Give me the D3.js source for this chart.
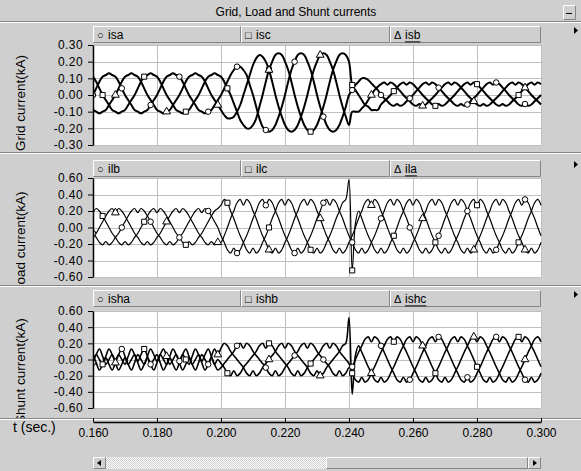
<!DOCTYPE html>
<html>
<head>
<meta charset="utf-8">
<script src="https://cdn.jsdelivr.net/npm/d3@7"></script>
<style>
  body { margin: 0; background: #cfcfcf; }
  svg { display: block; font-family: Arial, "Liberation Sans", sans-serif; }
</style>
</head>
<body>
<svg id="chart" width="581" height="471"></svg>
<script>
// time base: one sample per millisecond, 0.160 s .. 0.300 s
const timeStart = 0.160;
const timeStep = 0.001;
const xTicks = [0.16, 0.18, 0.20, 0.22, 0.24, 0.26, 0.28, 0.30];
const gridTicks = [0.3, 0.2, 0.1, 0, -0.1, -0.2, -0.3];
const loadTicks = [0.6, 0.4, 0.2, 0, -0.2, -0.4, -0.6];
const shuntTicks = [0.6, 0.4, 0.2, 0, -0.2, -0.4, -0.6];

// grid currents (kA)
const isa = [0,.04,.08,.11,.12,.13,.12,.11,.08,.04,0,-.03,-.06,-.09,-.10,-.11,-.10,-.09,-.06,-.03,
  0,.04,.08,.11,.12,.13,.12,.11,.08,.04,0,-.03,-.06,-.09,-.10,-.11,-.10,-.09,-.06,-.03,
  0,.04,.08,.12,.15,.17,.17,.15,.12,.06,0,-.07,-.14,-.19,-.21,-.22,-.21,-.18,-.13,-.07,
  0,.08,.15,.20,.24,.25,.24,.20,.15,.08,0,-.07,-.13,-.18,-.21,-.22,-.21,-.18,-.13,-.07,
  0,.03,.06,.08,.10,.10,.09,.07,.05,.03,0,-.02,-.038,-.057,-.065,-.054,-.065,-.057,-.038,-.02,
  0,.023,.044,.065,.075,.062,.075,.065,.044,.023,0,-.02,-.038,-.057,-.065,-.054,-.065,-.057,-.038,-.02,
  0,.023,.044,.065,.075,.062,.075,.065,.044,.023,0,-.02,-.038,-.057,-.065,-.054,-.065,-.057,-.038,-.02,
  0];
const isb = [-.09,-.10,-.11,-.10,-.09,-.06,-.03,
  0,.04,.08,.11,.12,.13,.12,.11,.08,.04,0,-.03,-.06,-.09,-.10,-.11,-.10,-.09,-.06,-.03,
  0,.04,.08,.11,.12,.13,.12,.11,.08,.04,0,-.03,-.06,
  -.09,-.12,-.14,-.14,-.13,-.10,-.06,0,.06,.12,.18,.22,.24,.23,
  .20,.15,.08,0,-.07,-.13,-.18,-.21,-.22,-.21,-.18,-.13,-.07,
  0,.08,.15,.20,.24,.25,.24,.20,.15,.08,0,-.07,-.13,-.18,
  -.10,-.10,-.10,-.08,-.06,-.03,0,.03,.05,
  .065,.075,.062,.075,.065,.044,.023,0,-.02,-.038,-.057,-.065,-.054,-.065,-.057,-.038,-.02,
  0,.023,.044,.065,.075,.062,.075,.065,.044,.023,0,-.02,-.038,-.057,-.065,-.054,-.065,-.057,-.038,-.02,
  0,.023,.044,.065,.075,.062,.075,.065,.044,.023,0,-.02,-.038,-.057];
const isc = [.11,.08,.04,0,-.03,-.06,-.09,-.10,-.11,-.10,-.09,-.06,-.03,
  0,.04,.08,.11,.12,.13,.12,.11,.08,.04,0,-.03,-.06,-.09,-.10,-.11,-.10,-.09,-.06,-.03,
  0,.04,.08,.11,.12,.13,.12,
  .11,.08,.04,0,-.05,-.10,-.15,-.18,-.20,-.20,-.18,-.14,-.07,0,
  .08,.15,.20,.24,.25,.24,.20,.15,.08,0,-.07,-.13,-.18,-.21,-.22,-.21,-.18,-.13,-.07,
  0,.08,.15,.20,.24,.25,.24,.20,
  .06,.03,0,-.03,-.06,-.07,-.09,-.09,-.09,-.057,-.038,-.02,
  0,.023,.044,.065,.075,.062,.075,.065,.044,.023,0,-.02,-.038,-.057,-.065,-.054,-.065,-.057,-.038,-.02,
  0,.023,.044,.065,.075,.062,.075,.065,.044,.023,0,-.02,-.038,-.057,-.065,-.054,-.065,-.057,-.038,-.02,
  0,.023,.044,.065,.075,.062,.075,.065];

// load currents (kA)
const ila = [-.12,-.07,
  0,.07,.14,.20,.23,.18,.23,.20,.14,.07,0,-.07,-.12,-.18,-.21,-.17,-.21,-.18,-.12,-.07,
  0,.07,.14,.20,.23,.18,.23,.20,.14,.07,0,-.07,-.12,-.18,-.21,-.17,-.21,-.18,
  -.18,-.10,
  0,.11,.20,.30,.34,.27,.34,.30,.20,.11,0,-.10,-.18,-.27,-.31,-.25,-.31,-.27,-.18,-.10,
  0,.11,.20,.30,.34,.27,.34,.30,.20,.11,0,-.10,-.18,-.27,-.31,-.25,-.31,-.27,-.18,-.10,
  0,.11,.20,.30,.34,.27,.34,.30,.20,.11,0,-.10,-.18,-.27,-.31,-.25,-.31,-.27,-.18,-.10,
  0,.11,.20,.30,.34,.27,.34,.30,.20,.11,0,-.10,-.18,-.27,-.31,-.25,-.31,-.27,-.18,-.10,
  0,.11,.20,.30,.34,.27,.34,.30,.20,.11,0,-.10,-.18,-.27,-.31,-.25,-.31,-.27,-.18];
const ilb = [-.07,-.12,-.18,-.21,-.17,-.21,-.18,-.12,-.07,
  0,.07,.14,.20,.23,.18,.23,.20,.14,.07,0,-.07,-.12,-.18,-.21,-.17,-.21,-.18,-.12,-.07,
  0,.07,.14,.20,.23,.18,.23,.20,.14,.07,0,
  -.10,-.18,-.27,-.31,-.25,-.31,-.27,-.18,-.10,
  0,.11,.20,.30,.34,.27,.34,.30,.20,.11,0,-.10,-.18,-.27,-.31,-.25,-.31,-.27,-.18,-.10,
  0,.11,.20,.30,.34,.27,.34,.30,.20,.11,0,-.10,-.18,-.27,-.31,-.25,-.31,-.27,-.18,-.10,
  0,.11,.20,.30,.34,.27,.34,.30,.20,.11,0,-.10,-.18,-.27,-.31,-.25,-.31,-.27,-.18,-.10,
  0,.11,.20,.30,.34,.27,.34,.30,.20,.11,0,-.10,-.18,-.27,-.31,-.25,-.31,-.27,-.18,-.10,
  0,.11,.20,.30,.34,.27,.34,.30,.20,.11,0,-.10];
const ilc = [.18,.23,.20,.14,.07,0,-.07,-.12,-.18,-.21,-.17,-.21,-.18,-.12,-.07,
  0,.07,.14,.20,.23,.18,.23,.20,.14,.07,0,-.07,-.12,-.18,-.21,-.17,-.21,-.18,-.12,-.07,
  0,.07,.14,.20,.23,
  .27,.34,.30,.20,.11,0,-.10,-.18,-.27,-.31,-.25,-.31,-.27,-.18,-.10,
  0,.11,.20,.30,.34,.27,.34,.30,.20,.11,0,-.10,-.18,-.27,-.31,-.25,-.31,-.27,-.18,-.10,
  0,.11,.20,.30,.34,.58,-.52,.05,.20,.11,0,-.10,-.18,-.27,-.31,-.25,-.31,-.27,-.18,-.10,
  0,.11,.20,.30,.34,.27,.34,.30,.20,.11,0,-.10,-.18,-.27,-.31,-.25,-.31,-.27,-.18,-.10,
  0,.11,.20,.30,.34,.27,.34,.30,.20,.11,0,-.10,-.18,-.27,-.31,-.25,-.31,-.27,-.18,-.10,
  0,.11,.20,.30,.34,.27];

// shunt currents (kA)
const isha = [-.04,.06,
  0,-.06,.04,.13,.06,-.02,.06,.13,.04,-.06,0,.06,-.04,-.13,-.06,.02,-.06,-.13,-.04,.06,
  0,-.06,.04,.13,.06,-.02,.06,.13,.04,-.06,0,.06,-.04,-.13,-.06,.02,-.06,-.13,
  -.10,-.05,
  0,.05,.10,.17,.20,.14,.20,.17,.10,.05,0,-.05,-.10,-.17,-.20,-.14,-.20,-.17,-.10,-.05,
  0,.05,.10,.17,.20,.14,.20,.17,.10,.05,0,-.05,-.10,-.17,-.20,-.14,-.20,-.17,
  -.10,-.09,
  0,.09,.17,.25,.28,.22,.28,.25,.17,.09,0,-.09,-.17,-.25,-.28,-.22,-.28,-.25,-.17,-.09,
  0,.09,.17,.25,.28,.22,.28,.25,.17,.09,0,-.09,-.17,-.25,-.28,-.22,-.28,-.25,-.17,-.09,
  0,.09,.17,.25,.28,.22,.28,.25,.17,.09,0,-.09,-.17,-.25,-.28,-.22,-.28,-.25,-.17];
const ishb = [.06,-.04,-.13,-.06,.02,-.06,-.13,-.04,.06,
  0,-.06,.04,.13,.06,-.02,.06,.13,.04,-.06,0,.06,-.04,-.13,-.06,.02,-.06,-.13,-.04,.06,
  0,-.06,.04,.13,.06,-.02,.06,.13,.04,-.06,0,
  -.05,-.10,-.17,-.20,-.14,-.20,-.17,-.10,-.05,
  0,.05,.10,.17,.20,.14,.20,.17,.10,.05,0,-.05,-.10,-.17,-.20,-.14,-.20,-.17,-.10,-.05,
  0,.05,.10,.17,.20,.14,.20,.17,.10,.05,0,-.05,
  -.17,-.25,-.28,-.22,-.28,-.25,-.17,-.09,
  0,.09,.17,.25,.28,.22,.28,.25,.17,.09,0,-.09,-.17,-.25,-.28,-.22,-.28,-.25,-.17,-.09,
  0,.09,.17,.25,.28,.22,.28,.25,.17,.09,0,-.09,-.17,-.25,-.28,-.22,-.28,-.25,-.17,-.09,
  0,.09,.17,.25,.28,.22,.28,.25,.17,.09,0,-.09];
const ishc = [-.02,.06,.13,.04,-.06,0,.06,-.04,-.13,-.06,.02,-.06,-.13,-.04,.06,
  0,-.06,.04,.13,.06,-.02,.06,.13,.04,-.06,0,.06,-.04,-.13,-.06,.02,-.06,-.13,-.04,.06,
  0,-.06,.04,.13,.06,
  .14,.20,.17,.10,.05,0,-.05,-.10,-.17,-.20,-.14,-.20,-.17,-.10,-.05,
  0,.05,.10,.17,.20,.14,.20,.17,.10,.05,0,-.05,-.10,-.17,-.20,-.14,-.20,-.17,-.10,-.05,
  0,.05,.10,.17,.20,
  .52,-.43,.05,
  .17,.09,0,-.09,-.17,-.25,-.28,-.22,-.28,-.25,-.17,-.09,
  0,.09,.17,.25,.28,.22,.28,.25,.17,.09,0,-.09,-.17,-.25,-.28,-.22,-.28,-.25,-.17,-.09,
  0,.09,.17,.25,.28,.22,.28,.25,.17,.09,0,-.09,-.17,-.25,-.28,-.22,-.28,-.25,-.17,-.09,
  0,.09,.17,.25,.28,.22];

const bg = "#cfcfcf", dark = "#858585", light = "#ffffff", gridCol = "#bfbfbf";
const svg = d3.select("#chart");
svg.append("rect").attr("width", 581).attr("height", 471).attr("fill", bg);
const defs = svg.append("defs");

// raised 3D box like the old windows controls
function box(g, x0, y0, w, h) {
  g.append("rect").attr("x", x0).attr("y", y0).attr("width", w).attr("height", h).attr("fill", bg);
  g.append("path").attr("d", `M${x0 + .5},${y0 + h - .5}V${y0 + .5}H${x0 + w - .5}`)
    .attr("fill", "none").attr("stroke", light);
  g.append("path").attr("d", `M${x0 + .5},${y0 + h - .5}H${x0 + w - .5}V${y0 + .5}`)
    .attr("fill", "none").attr("stroke", dark);
}
function hline(y, c) {
  svg.append("line").attr("x1", 0).attr("x2", 581).attr("y1", y + .5).attr("y2", y + .5).attr("stroke", c);
}

// title bar
svg.append("text").attr("x", 296).attr("y", 16).attr("text-anchor", "middle")
  .attr("font-size", 12).text("Grid, Load and Shunt currents");
box(svg, 563, 5, 13, 15);
svg.append("line").attr("x1", 566).attr("x2", 572).attr("y1", 13.5).attr("y2", 13.5).attr("stroke", "#000");

const x = d3.scaleLinear().domain([0.16, 0.30]).range([93, 541]);
const xOf = (d, i) => x(timeStart + i * timeStep);

const panels = [
  { label: "Grid current(kA)", ticks: gridTicks, domain: [-0.3, 0.3], top: 45, bottom: 145, legendY: 26,
    labelY: 151, clipTo: null, width: 2,
    series: [{ name: "isa", values: isa, mark: "circle" }, { name: "isc", values: isc, mark: "square" },
             { name: "isb", values: isb, mark: "triangle", underline: true }] },
  { label: "Load current(kA)", ticks: loadTicks, domain: [-0.6, 0.6], top: 178, bottom: 277, legendY: 160,
    labelY: 292, clipTo: 286, width: 1.2,
    series: [{ name: "ilb", values: ilb, mark: "circle" }, { name: "ilc", values: ilc, mark: "square" },
             { name: "ila", values: ila, mark: "triangle", underline: true }] },
  { label: "Shunt current(kA)", ticks: shuntTicks, domain: [-0.6, 0.6], top: 311, bottom: 408, legendY: 290,
    labelY: 424, clipTo: 418, width: 1.6,
    series: [{ name: "isha", values: isha, mark: "circle" }, { name: "ishb", values: ishb, mark: "square" },
             { name: "ishc", values: ishc, mark: "triangle", underline: true }] }
];

const markerSym = { circle: d3.symbolCircle, square: d3.symbolSquare, triangle: d3.symbolTriangle };
const markerSize = { circle: 24, square: 26, triangle: 26 };
const markerIdx = { circle: d3.range(0, 141, 9), square: d3.range(3, 141, 13), triangle: d3.range(7, 141, 16) };
const legendGlyph = { circle: "○", square: "□", triangle: "Δ" };
const cells = [93, 241, 390, 541];

panels.forEach((p, pi) => {
  const y = d3.scaleLinear().domain(p.domain).range([p.bottom, p.top]);
  const g = svg.append("g");

  // y axis title (clipped like the original)
  const lg = svg.append("g");
  if (p.clipTo) {
    defs.append("clipPath").attr("id", "lab" + pi).append("rect")
      .attr("x", 0).attr("y", 0).attr("width", 93).attr("height", p.clipTo);
    lg.attr("clip-path", `url(#lab${pi})`);
  }
  lg.append("text").attr("transform", `translate(25,${p.labelY}) rotate(-90)`)
    .attr("font-size", 13.5).text(p.label);

  // legend bar
  p.series.forEach((s, si) => {
    const x0 = cells[si], w = cells[si + 1] - cells[si];
    box(g, x0, p.legendY, w, 17);
    g.append("text").attr("x", x0 + 4).attr("y", p.legendY + 13).attr("font-size", 11)
      .text(legendGlyph[s.mark]);
    const t = g.append("text").attr("x", x0 + 15).attr("y", p.legendY + 13).attr("font-size", 12).text(s.name);
    if (s.underline) {
      const len = t.node().getComputedTextLength();
      g.append("rect").attr("x", x0 + 15).attr("y", p.legendY + 15).attr("width", len).attr("height", 2)
        .attr("fill", "#555");
    }
  });
  g.append("path").attr("d", `M574,${p.legendY + 1}L578,${p.legendY + 4.5}L574,${p.legendY + 8}Z`).attr("fill", "#000");

  // plot area + grid
  g.append("rect").attr("x", 93).attr("y", p.top).attr("width", 448).attr("height", p.bottom - p.top).attr("fill", "#fff");
  g.selectAll(".vg").data(xTicks.slice(1)).join("line")
    .attr("x1", d => x(d) + .5).attr("x2", d => x(d) + .5).attr("y1", p.top).attr("y2", p.bottom)
    .attr("stroke", gridCol);
  g.selectAll(".hg").data(p.ticks).join("line")
    .attr("x1", 93).attr("x2", 541).attr("y1", d => Math.round(y(d)) + .5).attr("y2", d => Math.round(y(d)) + .5)
    .attr("stroke", gridCol);

  // curves
  defs.append("clipPath").attr("id", "plot" + pi).append("rect")
    .attr("x", 93).attr("y", p.top - 1).attr("width", 449).attr("height", p.bottom - p.top + 2);
  const cg = g.append("g").attr("clip-path", `url(#plot${pi})`);
  const line = d3.line().x(xOf).y(d => y(d)).curve(d3.curveCatmullRom.alpha(0.5));
  p.series.forEach(s => {
    cg.append("path").attr("d", line(s.values)).attr("fill", "none")
      .attr("stroke", "#000").attr("stroke-width", p.width).attr("stroke-linejoin", "round");
  });
  p.series.forEach(s => {
    cg.selectAll(null).data(markerIdx[s.mark]).join("path")
      .attr("transform", i => `translate(${xOf(null, i)},${y(s.values[i])})`)
      .attr("d", d3.symbol(markerSym[s.mark], markerSize[s.mark]))
      .attr("fill", "#fff").attr("stroke", "#000").attr("stroke-width", 1);
  });

  // y axis
  const ax = g.append("g").attr("transform", "translate(93,0)")
    .call(d3.axisLeft(y).tickValues(p.ticks).tickSize(5).tickSizeOuter(0).tickPadding(5)
      .tickFormat(d => d.toFixed(2)));
  ax.select(".domain").attr("stroke-width", 1.5);
  ax.selectAll("text").attr("font-size", 12).attr("font-family", "Arial, 'Liberation Sans', sans-serif")
    .attr("letter-spacing", 0.4).attr("fill", "#000");
});

// frame lines
hline(21, dark); hline(22, light);
hline(152, dark); hline(153, light);
hline(285, dark); hline(286, light);
hline(418, dark); hline(419, light);

// time axis
const xa = svg.append("g").attr("transform", "translate(0,422)")
  .call(d3.axisTop(x).tickValues(xTicks).tickSize(4).tickSizeOuter(0).tickFormat(d => d.toFixed(3)));
xa.select(".domain").attr("stroke-width", 1.5);
xa.selectAll("text").attr("y", 15).attr("dy", 0).attr("font-size", 12)
  .attr("font-family", "Arial, 'Liberation Sans', sans-serif");
svg.append("text").attr("x", 13).attr("y", 432).attr("font-size", 14).text("t (sec.)");

// scrollbar
const pat = defs.append("pattern").attr("id", "hatch").attr("width", 2).attr("height", 2)
  .attr("patternUnits", "userSpaceOnUse");
pat.append("rect").attr("width", 2).attr("height", 2).attr("fill", "#fff");
pat.append("rect").attr("width", 1).attr("height", 1).attr("fill", bg);
pat.append("rect").attr("x", 1).attr("y", 1).attr("width", 1).attr("height", 1).attr("fill", bg);
svg.append("rect").attr("x", 106).attr("y", 457).attr("width", 422).attr("height", 12).attr("fill", "url(#hatch)");
box(svg, 93, 457, 13, 12);
box(svg, 326, 457, 202, 12);
box(svg, 528, 457, 13, 12);
svg.append("path").attr("d", "M101,460L97,463L101,466Z").attr("fill", "#000");
svg.append("path").attr("d", "M533,460L537,463L533,466Z").attr("fill", "#000");
</script>
</body>
</html>
